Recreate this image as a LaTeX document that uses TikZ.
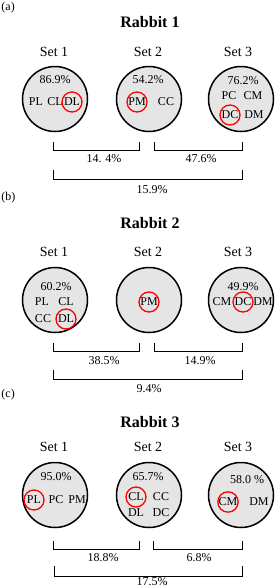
\documentclass[tikz,border=0pt]{standalone}
\usepackage{fontspec}
\setmainfont{Liberation Serif}
\begin{document}
\begin{tikzpicture}[
  x=1pt,y=-1pt,every node/.style={font=\fontsize{12}{14}\selectfont,inner sep=0pt},
  every path/.style={line width=1pt},
  setcirc/.style={circle,draw,fill=black!10,line width=1.5pt,minimum size=65pt},
  ring/.style={circle,draw=red,line width=1.3pt,minimum size=20pt},
  title/.style={font=\fontsize{16}{19}\selectfont\bfseries},
  setname/.style={font=\fontsize{14}{17}\selectfont}]
  \useasboundingbox (0,0) rectangle (276,587);

  % (a) Rabbit 1
  \node[anchor=west] (pa) at (1,8) {(a)};
  \node[title] (ta) at (150,22) {Rabbit 1};
  \node[setname] (a1) at (54,52) {Set 1};
  \node[setname] (a2) at (148,52) {Set 2};
  \node[setname] (a3) at (238,52) {Set 3};
  \node[setcirc] (ca1) at (55,99) {};
  \node[setcirc] (ca2) at (149,99) {};
  \node[setcirc] (ca3) at (241,99) {};
  \node (a1p) at (55,80) {86.9\%};
  \node (a1pl) at (36,102) {PL};
  \node (a1cl) at (55,102) {CL};
  \node[ring] (a1dl) at (72,102) {DL};
  \node (a2p) at (148,80) {54.2\%};
  \node[ring] (a2pm) at (137,102) {PM};
  \node (a2cc) at (166,102) {CC};
  \node (a3p) at (243,81) {76.2\%};
  \node (a3pc) at (229,96) {PC};
  \node (a3cm) at (253,96) {CM};
  \node[ring] (a3dc) at (230,115) {DC};
  \node (a3dm) at (254,115) {DM};
  \coordinate (a12l) at (53,142); \coordinate (a12r) at (139,142);
  \coordinate (a23l) at (154,142); \coordinate (a23r) at (242,142);
  \coordinate (a13l) at (53,170); \coordinate (a13r) at (242,170);
  \draw (a12l) -- ++(0,8) -| (a12r);
  \draw (a23l) -- ++(0,8) -| (a23r);
  \draw (a13l) -- ++(0,9) -| (a13r);
  \node (a12) at (104,159) {14. 4\%};
  \node (a23) at (201,159) {47.6\%};
  \node (a13) at (152,190) {15.9\%};

  % (b) Rabbit 2
  \node[anchor=west] (pb) at (1,198) {(b)};
  \node[title] (tb) at (150,223) {Rabbit 2};
  \node[setname] (b1) at (54,252) {Set 1};
  \node[setname] (b2) at (148,252) {Set 2};
  \node[setname] (b3) at (238,252) {Set 3};
  \node[setcirc] (cb1) at (55,300) {};
  \node[setcirc] (cb2) at (149,300) {};
  \node[setcirc] (cb3) at (241,300) {};
  \node (b1p) at (56,287) {60.2\%};
  \node (b1pl) at (42,302) {PL};
  \node (b1cl) at (66,302) {CL};
  \node (b1cc) at (43,319) {CC};
  \node[ring] (b1dl) at (66,319) {DL};
  \node[ring] (b2pm) at (149,302) {PM};
  \node (b3p) at (243,287) {49.9\%};
  \node (b3cm) at (222,302) {CM};
  \node[ring] (b3dc) at (243,302) {DC};
  \node (b3dm) at (263,302) {DM};
  \coordinate (b12l) at (53,343); \coordinate (b12r) at (139,343);
  \coordinate (b23l) at (154,343); \coordinate (b23r) at (242,343);
  \coordinate (b13l) at (53,370); \coordinate (b13r) at (242,370);
  \draw (b12l) -- ++(0,8) -| (b12r);
  \draw (b23l) -- ++(0,8) -| (b23r);
  \draw (b13l) -- ++(0,9) -| (b13r);
  \node (b12) at (104,361) {38.5\%};
  \node (b23) at (200,361) {14.9\%};
  \node (b13) at (149,389) {9.4\%};

  % (c) Rabbit 3
  \node[anchor=west] (pc) at (1,395) {(c)};
  \node[title] (tc) at (150,422) {Rabbit 3};
  \node[setname] (c1) at (54,447) {Set 1};
  \node[setname] (c2) at (148,447) {Set 2};
  \node[setname] (c3) at (238,447) {Set 3};
  \node[setcirc] (cc1) at (55,495) {};
  \node[setcirc] (cc2) at (149,495) {};
  \node[setcirc] (cc3) at (241,495) {};
  \node (c1p) at (56,477) {95.0\%};
  \node[ring] (c1pl) at (34,500) {PL};
  \node (c1pc) at (56,500) {PC};
  \node (c1pm) at (77,500) {PM};
  \node (c2p) at (148,477) {65.7\%};
  \node[ring] (c2cl) at (136,497) {CL};
  \node (c2cc) at (161,497) {CC};
  \node (c2dl) at (136,513) {DL};
  \node (c2dc) at (161,513) {DC};
  \node (c3p) at (247,480) {58.0 \%};
  \node[ring] (c3cm) at (228,502) {CM};
  \node (c3dm) at (259,502) {DM};
  \coordinate (c12l) at (53,541); \coordinate (c12r) at (139,541);
  \coordinate (c23l) at (153,541); \coordinate (c23r) at (242,541);
  \coordinate (c13l) at (54,566); \coordinate (c13r) at (242,566);
  \draw (c12l) -- ++(0,8) -| (c12r);
  \draw (c23l) -- ++(0,8) -| (c23r);
  \draw (c13l) -- ++(0,10) -| (c13r);
  \node (c12) at (103,558) {18.8\%};
  \node (c23) at (199,558) {6.8\%};
  \node (c13) at (152,582) {17.5\%};
\end{tikzpicture}
\end{document}
